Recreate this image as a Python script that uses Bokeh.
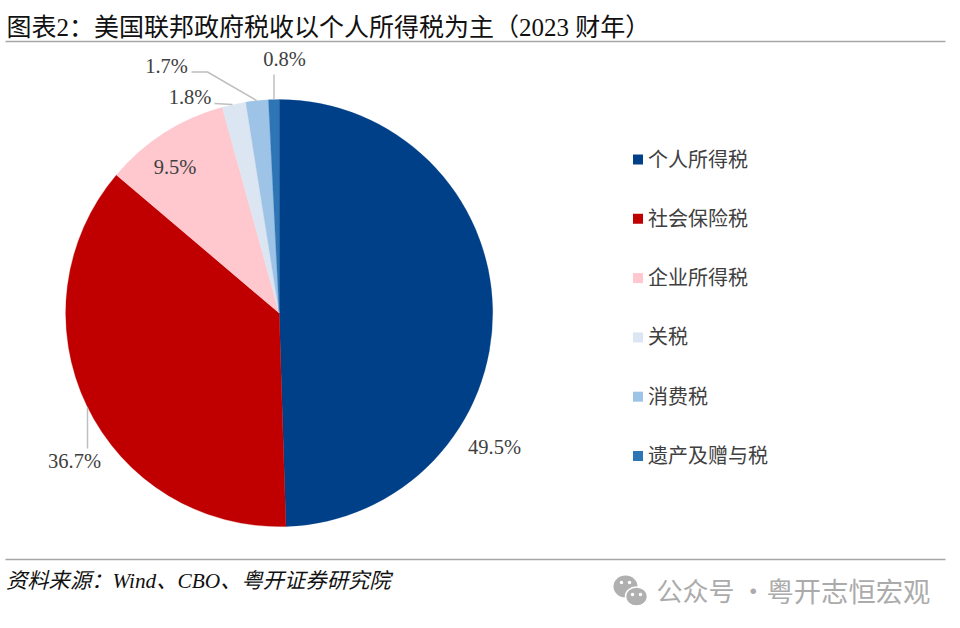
from bokeh.plotting import figure
from bokeh.models import Range1d
from bokeh.core.properties import value
from bokeh.embed import file_html
from bokeh.resources import INLINE
import math

categories = ["个人所得税", "社会保险税", "企业所得税", "关税", "消费税", "遗产及赠与税"]
shares = [49.5, 36.7, 9.5, 1.8, 1.7, 0.8]
labels = ["49.5%", "36.7%", "9.5%", "1.8%", "1.7%", "0.8%"]
colors = ["#004088", "#C00000", "#FFC7CE", "#DCE6F2", "#9DC3E6", "#2E75B6"]
title = "图表2：美国联邦政府税收以个人所得税为主（2023 财年）"
source = "资料来源：Wind、CBO、粤开证券研究院"
watermark_a = "公众号 ·"
watermark_b = "粤开志恒宏观"

W, H = 950, 620
SERIF = "'Liberation Serif', 'Noto Sans CJK SC'"
def Y(y):
    return H - y

p = figure(width=W, height=H, output_backend="svg", toolbar_location=None,
           x_range=Range1d(0, W), y_range=Range1d(0, H), min_border=0,
           x_axis_type=None, y_axis_type=None, outline_line_color=None,
           background_fill_color="white", border_fill_color="white")
p.grid.visible = False

# rules
for y in (41, 559):
    p.line([5, 945], [Y(y), Y(y)], line_color="#a6a6a6", line_width=1.5)

# pie
cx, cy, r = 278.7, 312.6, 213.5
cum = 0.0
for s, c in zip(shares, colors):
    a0 = math.radians(90 - cum * 3.6)
    a1 = math.radians(90 - (cum + s) * 3.6)
    p.wedge(x=cx, y=Y(cy), radius=r, start_angle=a0, end_angle=a1,
            direction="clock", fill_color=c, line_color=c, line_width=0.3)
    cum += s

# leader lines
leaders = [([87, 87], [407, 448]),
           ([191, 207, 256], [71.5, 71.5, 100]),
           ([214, 232], [103, 104]),
           ([273.5, 273.5], [74, 99])]
for xs, ys in leaders:
    p.line(xs, [Y(v) for v in ys], line_color="#bfbfbf", line_width=1.5)

# data labels
label_pos = [(494, 446), (74, 460.5), (174.5, 166), (189.5, 96), (166, 65), (284, 58)]
for t, (x, y) in zip(labels, label_pos):
    p.text([x], [Y(y)], text=[t], text_font=value("Liberation Serif"), text_font_size="20.5px",
           text_color="#404040", text_align="center", text_baseline="middle")

# legend
for i, (cat, c) in enumerate(zip(categories, colors)):
    y = 159 + 59.3 * i
    p.scatter([637.5], [Y(y)], marker="square", size=10, fill_color=c, line_color=None)
    p.text([647.5], [Y(y)], text=[cat], text_font=value(SERIF), text_font_size="20px",
           text_color="#404040", text_align="left", text_baseline="middle")

# title and source
p.text([6], [Y(26.5)], text=[title], text_font=value(SERIF), text_font_size="25px",
       text_color="#111111", text_align="left", text_baseline="middle")
p.text([5.5], [Y(580.5)], text=[source], text_font=value(SERIF), text_font_size="21.3px",
       text_font_style="italic", text_color="#111111", text_align="left", text_baseline="middle")

# watermark
p.ellipse([625], [Y(586)], width=24, height=22, fill_color="#b0b0b0", line_color=None)
p.ellipse([636], [Y(596)], width=22, height=19, fill_color="#b0b0b0", line_color="white", line_width=1.5)
p.scatter([621, 629, 632, 640], [Y(582), Y(582), Y(594), Y(594)], marker="circle", size=3.5,
          fill_color="white", line_color=None)
p.text([656], [Y(589)], text=[watermark_a], text_font=value("Noto Sans CJK SC"), text_font_size="26px",
       text_color="#ababab", text_align="left", text_baseline="middle")
p.text([766], [Y(589)], text=[watermark_b], text_font=value("Noto Sans CJK SC"), text_font_size="27.3px",
       text_color="#ababab", text_align="left", text_baseline="middle")

open("out.html", "w").write(file_html(p, INLINE))
